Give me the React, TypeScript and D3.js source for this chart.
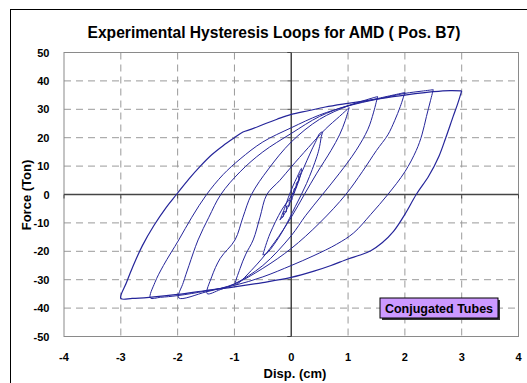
import React from "react";
import * as d3 from "d3";

type P = [number, number];

const xTicks = [-4, -3, -2, -1, 0, 1, 2, 3, 4];
const yTicks = [50, 40, 30, 20, 10, 0, -10, -20, -30, -40, -50];
const titleText = "Experimental Hysteresis Loops for AMD ( Pos. B7)";
const xLabel = "Disp. (cm)";
const yLabel = "Force (Ton)";
const legendText = "Conjugated Tubes";

// Loop at ±3.0 cm: [disp (cm), force (ton)]
const loop30: P[] = [
  [3.0, 36.5], [2.93, 32], [2.85, 27.5], [2.72, 20], [2.6, 13.5], [2.42, 6.5], [2.2, 0],
  [2.0, -7], [1.8, -13], [1.6, -17], [1.4, -19.8], [1.2, -21.4], [1.0, -22.7], [0.7, -25],
  [0.4, -27], [0.0, -29.2], [-0.5, -31], [-1.0, -32.5], [-1.5, -33.8], [-2.0, -35.2],
  [-2.5, -36.2], [-2.8, -36.6], [-3.0, -36.6],
  [-2.9, -31], [-2.78, -25], [-2.62, -18], [-2.42, -11], [-2.2, -4.5], [-2.02, 0],
  [-1.8, 5.5], [-1.6, 10], [-1.4, 14], [-1.2, 17.2], [-1.0, 20], [-0.85, 22], [-0.7, 23],
  [-0.45, 25], [-0.25, 26.5], [0.0, 28.2], [0.3, 29.5], [0.6, 30.8], [1.0, 32.1],
  [1.5, 33.6], [2.0, 35], [2.5, 36.2], [2.8, 36.6], [3.0, 36.5],
];

// Loop at ±2.5 cm
const loop25: P[] = [
  [2.5, 36.9], [2.45, 33], [2.38, 27.5], [2.3, 21], [2.2, 15.5], [2.0, 8], [1.7, 0],
  [1.4, -7], [1.1, -13.5], [0.8, -17.5], [0.4, -21.5], [0.0, -25], [-0.5, -29], [-1.0, -32],
  [-1.5, -34], [-2.0, -35.6], [-2.3, -36.2], [-2.48, -36.4],
  [-2.4, -31], [-2.25, -25], [-1.98, -16], [-1.75, -8], [-1.49, 0], [-1.2, 7], [-0.9, 12.5],
  [-0.5, 18.5], [0.0, 23.5], [0.5, 28], [1.0, 31.2], [1.5, 33.5], [2.0, 35.6], [2.3, 36.4],
  [2.5, 36.9],
];

// Loop at ±2.0 cm
const loop20: P[] = [
  [2.0, 35.9], [1.92, 31], [1.82, 26], [1.7, 21], [1.5, 15.5], [1.25, 8], [0.96, 0],
  [0.5, -10], [0.0, -19], [-0.5, -26], [-1.0, -31.5], [-1.5, -34.3], [-1.98, -36.4],
  [-1.9, -31], [-1.8, -25], [-1.64, -16], [-1.45, -8], [-1.24, 0], [-0.9, 8], [-0.5, 15],
  [0.0, 21.5], [0.5, 27.5], [1.0, 31.3], [1.5, 33.7], [2.0, 35.9],
];

// Loop at ±1.5 cm
const loop15: P[] = [
  [1.52, 34.5], [1.45, 29], [1.35, 23], [1.14, 15.5], [0.85, 7.5], [0.55, 0], [0.25, -7.5],
  [0.0, -14.5], [-0.5, -25], [-1.0, -31.5], [-1.25, -33.5], [-1.48, -34.9],
  [-1.4, -29], [-1.25, -22.5], [-0.99, -16], [-0.85, -8], [-0.7, 0], [-0.4, 9], [0.0, 18.5],
  [0.5, 26.5], [1.0, 31.2], [1.3, 33.2], [1.52, 34.5],
];

// Loop at ±1.0 cm
const loop10: P[] = [
  [1.02, 30.6], [0.95, 26], [0.85, 21], [0.7, 15.5], [0.45, 7.5], [0.23, 0], [0.0, -8],
  [-0.3, -17], [-0.6, -24.5], [-0.98, -31.7],
  [-0.9, -26], [-0.8, -21], [-0.67, -16], [-0.55, -8], [-0.43, 0], [-0.2, 5], [0.0, 9.7],
  [0.3, 16.5], [0.6, 23], [0.85, 27.5], [1.02, 30.6],
];

// Loop at ±0.5 cm
const loop05: P[] = [
  [-0.5, -21.3], [-0.45, -18], [-0.37, -13.6], [-0.17, -5.5], [0.01, -0.2], [0.18, 7.6],
  [0.36, 15.7], [0.44, 19], [0.5, 21.5], [0.55, 22], [0.53, 20.5], [0.5, 17], [0.45, 13.3],
  [0.27, 3.9], [0.07, -4.3], [-0.14, -12.5], [-0.3, -17.5], [-0.43, -20.7], [-0.5, -21.3],
];

// Small cycles near the origin
const loopTiny: P[] = [
  [-0.2, -9], [-0.12, -5], [-0.05, -1], [0.03, 3], [0.1, 6], [0.18, 9.2], [0.16, 6.5],
  [0.1, 3], [0.02, -1], [-0.06, -4.5], [-0.14, -7.5], [-0.2, -9],
];
const loopTinyInner: P[] = [
  [-0.18, -8.2], [-0.14, -7.8], [-0.13, -6], [-0.09, -6.2], [-0.08, -4], [-0.04, -4.2],
  [-0.03, -2], [0.01, -2], [0.01, 0], [0.05, 0.5], [0.05, 2], [0.09, 2.5], [0.09, 4],
  [0.13, 4.8], [0.13, 6.5], [0.16, 7.5],
];

const loops: P[][] = [loop30, loop25, loop20, loop15, loop10, loop05, loopTiny, loopTinyInner];

export default function App() {
  const W = 527;
  const H = 383;
  const left = 64, right = 518.5, top = 52.5, bottom = 336.5;
  const x = d3.scaleLinear().domain([-4, 4]).range([left, right]);
  const y = d3.scaleLinear().domain([-50, 50]).range([bottom, top]);
  const line = d3
    .line<P>()
    .x((d) => x(d[0]))
    .y((d) => y(d[1]))
    .curve(d3.curveCatmullRom.alpha(0.5));
  const font = "'Liberation Sans', Arial, sans-serif";
  const x0 = x(0);
  const y0 = y(0);

  return (
    <svg
      width={W}
      height={H}
      style={{ position: "absolute", left: 0, top: 0, background: "#fff" }}
      fontFamily={font}
    >
      <rect x={10.5} y={9.5} width={600} height={500} fill="#fff" stroke="#000" strokeWidth={1} />
      <text x={274} y={37.5} textAnchor="middle" fontSize={15.6} fontWeight="bold" fill="#000">
        {titleText}
      </text>
      {/* grid */}
      {xTicks.filter((t) => t !== -4 && t !== 4 && t !== 0).map((t) => (
        <line key={"gx" + t} x1={x(t)} x2={x(t)} y1={top} y2={bottom} stroke="#9a9a9a" strokeDasharray="7,5" />
      ))}
      {yTicks.filter((t) => t !== -50 && t !== 50 && t !== 0).map((t) => (
        <line key={"gy" + t} x1={left} x2={right} y1={y(t)} y2={y(t)} stroke="#9a9a9a" strokeDasharray="7,5" />
      ))}
      <rect x={left} y={top} width={right - left} height={bottom - top} fill="none" stroke="#8a8a8a" />
      {/* zero axes */}
      <line x1={left} x2={right} y1={y0} y2={y0} stroke="#444" strokeWidth={1.5} />
      <line x1={x0} x2={x0} y1={top} y2={bottom} stroke="#444" strokeWidth={1.5} />
      {xTicks.map((t) => (
        <line key={"tx" + t} x1={x(t)} x2={x(t)} y1={y0} y2={y0 + 4} stroke="#444" />
      ))}
      {yTicks.map((t) => (
        <line key={"ty" + t} x1={x0 - 4} x2={x0} y1={y(t)} y2={y(t)} stroke="#444" />
      ))}
      {/* loops */}
      {loops.map((l, i) => (
        <path key={"l" + i} d={line(l) || ""} fill="none" stroke="#25259a" strokeWidth={i === 0 ? 1.2 : 1} />
      ))}
      {/* tick labels */}
      {yTicks.map((t) => (
        <text key={"yl" + t} x={49.5} y={y(t) + 4} textAnchor="end" fontSize={11} fontWeight="bold">
          {t}
        </text>
      ))}
      {xTicks.map((t) => (
        <text key={"xl" + t} x={x(t)} y={360.7} textAnchor="middle" fontSize={11} fontWeight="bold">
          {t}
        </text>
      ))}
      <text x={295} y={378} textAnchor="middle" fontSize={13} fontWeight="bold">
        {xLabel}
      </text>
      <text transform="translate(31,195) rotate(-90)" textAnchor="middle" fontSize={13} fontWeight="bold">
        {yLabel}
      </text>
      {/* legend box */}
      <rect x={382} y={300} width={118} height={20} fill="#333" />
      <rect x={380} y={298} width={118} height={20} fill="#cc99ff" stroke="#000" />
      <text x={439} y={313} textAnchor="middle" fontSize={12.5} fontWeight="bold">
        {legendText}
      </text>
    </svg>
  );
}
